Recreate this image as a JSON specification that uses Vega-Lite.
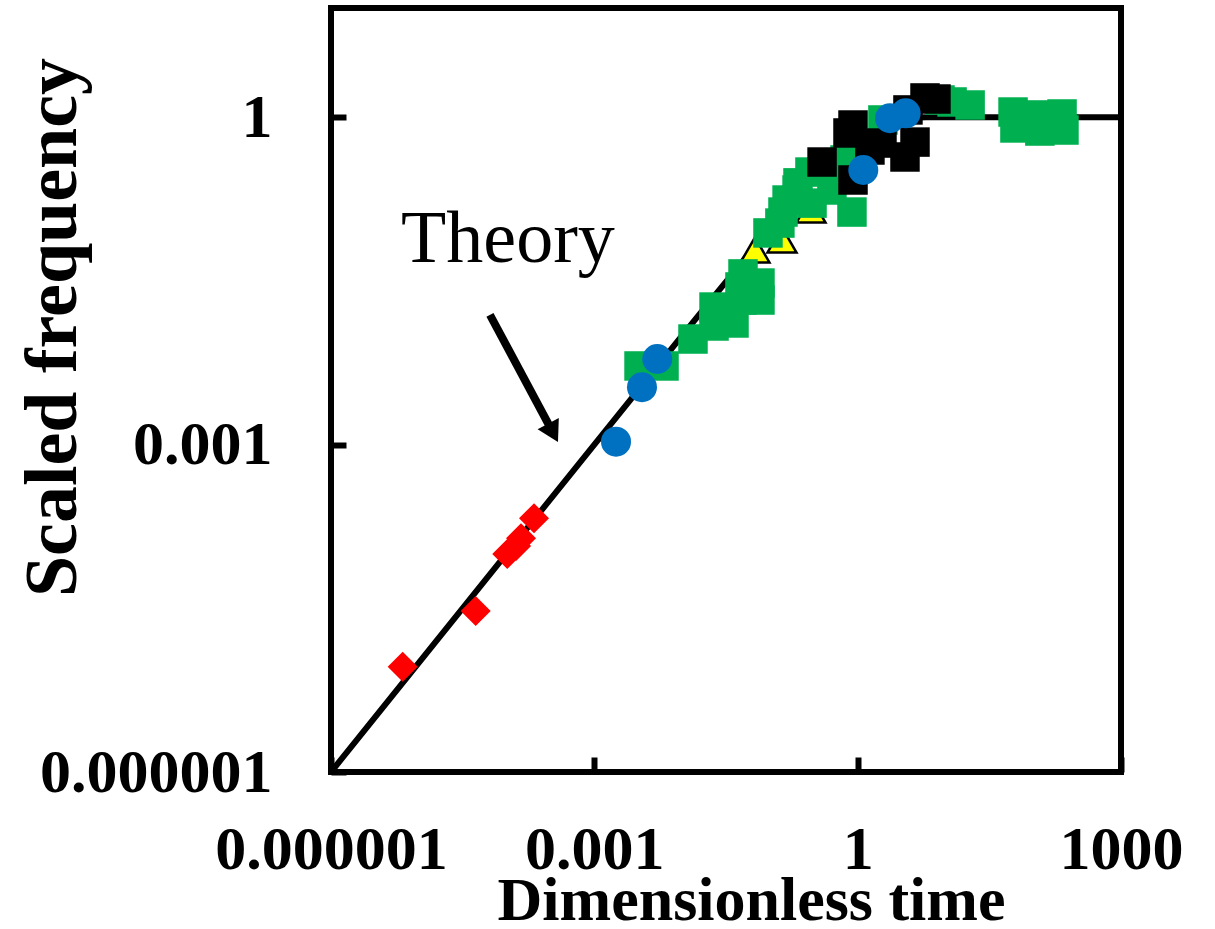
{
  "$schema": "https://vega.github.io/schema/vega-lite/v6.json",
  "width": 790,
  "height": 764,
  "autosize": "none",
  "padding": {"left": 331, "top": 8, "right": 94, "bottom": 157},
  "background": "white",
  "config": {
    "view": {"stroke": "black", "strokeWidth": 6},
    "font": "Liberation Serif"
  },
  "datasets": {
    "theory": [
      {"t": 0.000001, "f": 0.000001},
      {"t": 0.0001, "f": 0.0001},
      {"t": 0.001, "f": 0.0009995},
      {"t": 0.01, "f": 0.00995},
      {"t": 0.02, "f": 0.0198},
      {"t": 0.05, "f": 0.04877},
      {"t": 0.1, "f": 0.09516},
      {"t": 0.15, "f": 0.1393},
      {"t": 0.2, "f": 0.1813},
      {"t": 0.3, "f": 0.2592},
      {"t": 0.4, "f": 0.3297},
      {"t": 0.5, "f": 0.3935},
      {"t": 0.7, "f": 0.5034},
      {"t": 0.8, "f": 0.5507},
      {"t": 1, "f": 0.6321},
      {"t": 1.2, "f": 0.6988},
      {"t": 1.5, "f": 0.7769},
      {"t": 2, "f": 0.8647},
      {"t": 2.5, "f": 0.9179},
      {"t": 3, "f": 0.9502},
      {"t": 4, "f": 0.9817},
      {"t": 5, "f": 0.9933},
      {"t": 6, "f": 0.9975},
      {"t": 10, "f": 0.99995},
      {"t": 1000, "f": 1}
    ],
    "points": [
      {"series": "yellow", "t": 0.0676, "f": 0.0607},
      {"series": "yellow", "t": 0.1374, "f": 0.0748},
      {"series": "yellow", "t": 0.2938, "f": 0.141},

      {"series": "green", "t": 0.00323, "f": 0.00525},
      {"series": "green", "t": 0.00622, "f": 0.00525},
      {"series": "green", "t": 0.0133, "f": 0.00927},
      {"series": "green", "t": 0.0231, "f": 0.0182},
      {"series": "green", "t": 0.0231, "f": 0.0122},
      {"series": "green", "t": 0.0256, "f": 0.0145},
      {"series": "green", "t": 0.039, "f": 0.013},
      {"series": "green", "t": 0.0456, "f": 0.0278},
      {"series": "green", "t": 0.0481, "f": 0.0211},
      {"series": "green", "t": 0.0494, "f": 0.0366},
      {"series": "green", "t": 0.0771, "f": 0.0211},
      {"series": "green", "t": 0.0771, "f": 0.0302},
      {"series": "green", "t": 0.0951, "f": 0.0869},
      {"series": "green", "t": 0.130, "f": 0.107},
      {"series": "green", "t": 0.141, "f": 0.135},
      {"series": "green", "t": 0.157, "f": 0.174},
      {"series": "green", "t": 0.204, "f": 0.215},
      {"series": "green", "t": 0.209, "f": 0.250},
      {"series": "green", "t": 0.286, "f": 0.314},
      {"series": "green", "t": 0.302, "f": 0.163},
      {"series": "green", "t": 0.447, "f": 0.365},
      {"series": "green", "t": 0.509, "f": 0.215},
      {"series": "green", "t": 0.718, "f": 0.405},
      {"series": "green", "t": 0.861, "f": 0.135},
      {"series": "green", "t": 1.94, "f": 0.942},
      {"series": "green", "t": 8.67, "f": 1.436},
      {"series": "green", "t": 11.9, "f": 1.377},
      {"series": "green", "t": 19.1, "f": 1.292},
      {"series": "green", "t": 58.9, "f": 1.114},
      {"series": "green", "t": 61.9, "f": 0.796},
      {"series": "green", "t": 113, "f": 1.047},
      {"series": "green", "t": 119, "f": 0.746},
      {"series": "green", "t": 213, "f": 1.069},
      {"series": "green", "t": 224, "f": 0.762},

      {"series": "black", "t": 0.393, "f": 0.388},
      {"series": "black", "t": 0.776, "f": 0.716},
      {"series": "black", "t": 0.885, "f": 0.847},
      {"series": "black", "t": 0.885, "f": 0.2655},
      {"series": "black", "t": 1.38, "f": 0.50},
      {"series": "black", "t": 1.892, "f": 0.579},
      {"series": "black", "t": 3.46, "f": 0.4315},
      {"series": "black", "t": 4.50, "f": 0.591},
      {"series": "black", "t": 3.74, "f": 1.164},
      {"series": "black", "t": 5.85, "f": 1.499},
      {"series": "black", "t": 7.80, "f": 1.466},

      {"series": "red", "t": 0.00000656, "f": 0.00000923},
      {"series": "red", "t": 0.0000445, "f": 0.0000299},
      {"series": "red", "t": 0.0001019, "f": 0.0000993},
      {"series": "red", "t": 0.0001283, "f": 0.0001178},
      {"series": "red", "t": 0.0001462, "f": 0.0001384},
      {"series": "red", "t": 0.0002056, "f": 0.0002113},

      {"series": "blue", "t": 0.001766, "f": 0.001062},
      {"series": "blue", "t": 0.00349, "f": 0.00335},
      {"series": "blue", "t": 0.00521, "f": 0.00608},
      {"series": "blue", "t": 1.159, "f": 0.328},
      {"series": "blue", "t": 2.333, "f": 0.977},
      {"series": "blue", "t": 3.52, "f": 1.084}
    ],
    "arrow": [
      {"t": 0.0000647, "f": 0.01546, "t2": 0.000339, "f2": 0.001283}
    ],
    "labels": [
      {"t": 0.0001037, "f": 0.0471, "text": "Theory"}
    ]
  },
  "encoding": {
    "x": {
      "field": "t",
      "type": "quantitative",
      "scale": {"type": "log", "domain": [0.000001, 1000]},
      "axis": {
        "title": "Dimensionless time",
        "values": [0.000001, 0.001, 1, 1000],
        "format": "~f",
        "domain": false,
        "grid": false,
        "ticks": true,
        "tickSize": -15,
        "tickWidth": 6,
        "tickColor": "black",
        "labelFont": "Liberation Serif",
        "labelFontWeight": "bold",
        "labelFontSize": 62,
        "labelColor": "black",
        "labelBaseline": "alphabetic",
        "labelPadding": 111,
        "labelLimit": 0,
        "labelFlush": false,
        "labelOverlap": false,
        "labelBound": false,
        "titleFont": "Liberation Serif",
        "titleFontWeight": "bold",
        "titleFontSize": 62,
        "titleColor": "black",
        "titleX": 420,
        "titleY": 147,
        "titleAlign": "center",
        "titleBaseline": "alphabetic",
        "titleLimit": 0
      }
    },
    "y": {
      "field": "f",
      "type": "quantitative",
      "scale": {"type": "log", "domain": [0.000001, 10]},
      "axis": {
        "title": "Scaled frequency",
        "values": [0.000001, 0.001, 1],
        "format": "~f",
        "domain": false,
        "grid": false,
        "ticks": true,
        "tickSize": -15,
        "tickWidth": 6,
        "tickColor": "black",
        "labelFont": "Liberation Serif",
        "labelFontWeight": "bold",
        "labelFontSize": 62,
        "labelColor": "black",
        "labelAlign": "right",
        "labelBaseline": "middle",
        "labelPadding": 74,
        "labelLimit": 0,
        "labelFlush": false,
        "labelOverlap": false,
        "labelBound": false,
        "titleFont": "Liberation Serif",
        "titleFontWeight": "bold",
        "titleFontSize": 74,
        "titleColor": "black",
        "titleAngle": -90,
        "titleX": -256,
        "titleY": 319,
        "titleAlign": "center",
        "titleBaseline": "alphabetic",
        "titleLimit": 0
      }
    }
  },
  "layer": [
    {
      "data": {"name": "theory"},
      "mark": {"type": "line", "color": "black", "strokeWidth": 6},
      "encoding": {}
    },
    {
      "data": {"name": "points"},
      "transform": [{"filter": "datum.series === 'yellow'"}],
      "mark": {"type": "point", "shape": "triangle-up", "size": 840, "filled": true, "fill": "#FFFF00", "stroke": "black", "strokeWidth": 2.5, "opacity": 1}
    },
    {
      "data": {"name": "points"},
      "transform": [{"filter": "datum.series === 'green'"}],
      "mark": {"type": "point", "shape": "square", "size": 870, "filled": true, "color": "#00B050", "opacity": 1}
    },
    {
      "data": {"name": "points"},
      "transform": [{"filter": "datum.series === 'black'"}],
      "mark": {"type": "point", "shape": "square", "size": 870, "filled": true, "color": "#000000", "opacity": 1}
    },
    {
      "data": {"name": "points"},
      "transform": [{"filter": "datum.series === 'red'"}],
      "mark": {"type": "point", "shape": "diamond", "size": 900, "filled": true, "color": "#FF0000", "opacity": 1}
    },
    {
      "data": {"name": "points"},
      "transform": [{"filter": "datum.series === 'blue'"}],
      "mark": {"type": "point", "shape": "circle", "size": 900, "filled": true, "color": "#0070C0", "opacity": 1}
    },
    {
      "data": {"name": "arrow"},
      "mark": {"type": "rule", "color": "black", "strokeWidth": 8},
      "encoding": {
        "x2": {"field": "t2"},
        "y2": {"field": "f2"}
      }
    },
    {
      "data": {"name": "arrow"},
      "mark": {"type": "point", "shape": "triangle-up", "size": 576, "angle": 152, "filled": true, "color": "black", "opacity": 1},
      "encoding": {
        "x": {"field": "t2", "type": "quantitative"},
        "y": {"field": "f2", "type": "quantitative"}
      }
    },
    {
      "data": {"name": "labels"},
      "mark": {"type": "text", "font": "Liberation Serif", "fontSize": 74, "color": "black", "align": "center", "baseline": "alphabetic"},
      "encoding": {"text": {"field": "text"}}
    }
  ]
}
